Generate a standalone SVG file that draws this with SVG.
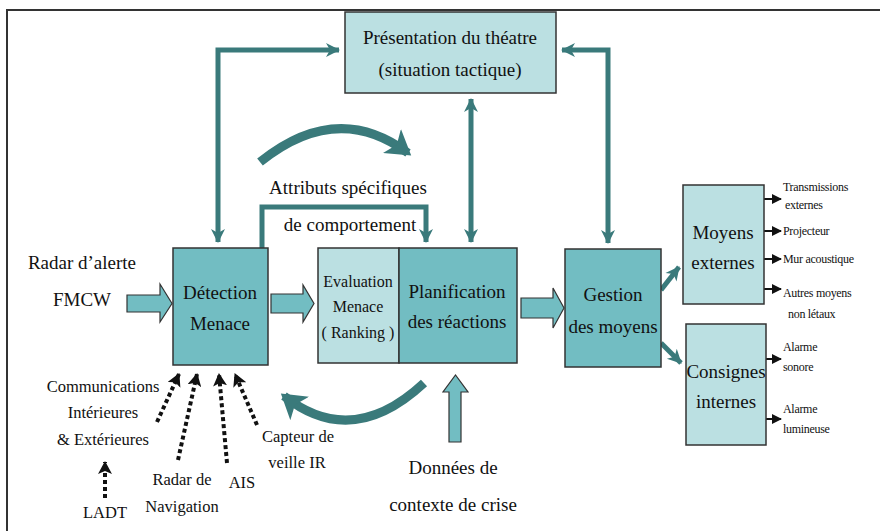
<svg xmlns="http://www.w3.org/2000/svg" width="880" height="531" viewBox="0 0 880 531" font-family="'Liberation Serif', 'DejaVu Serif', serif">
<style>
text{fill:#111;text-anchor:middle}
.big{font-size:19px}
.mid{font-size:16.5px}
.eva{font-size:16px}
.sm{font-size:12px;text-anchor:start;letter-spacing:-0.3px}
.light{fill:#bbe0e2;stroke:#333;stroke-width:1.5}
.med{fill:#72bdc2;stroke:#333;stroke-width:1.5}
.blk{fill:#72bdc2;stroke:#333;stroke-width:1.2}
.tl{fill:none;stroke:#3a7a7b;stroke-width:5}
.tc{fill:none;stroke:#3a7a7b;stroke-width:9;stroke-linecap:butt}
.dot{fill:none;stroke:#111;stroke-width:4;stroke-dasharray:4 3}
.ba{fill:none;stroke:#111;stroke-width:2}
</style>
<defs>
<marker id="ta" markerUnits="userSpaceOnUse" markerWidth="16" markerHeight="16" refX="13" refY="8" orient="auto-start-reverse">
<path d="M0,1 L14,8 L0,15 L4,8 z" fill="#3a7a7b"/>
</marker>
<marker id="tb" markerUnits="userSpaceOnUse" markerWidth="28" markerHeight="30" refX="20" refY="15" orient="auto">
<path d="M0,0 L24,15 L0,30 L6,15 z" fill="#3a7a7b"/>
</marker>
<marker id="da" markerUnits="userSpaceOnUse" markerWidth="14" markerHeight="14" refX="12" refY="7" orient="auto">
<path d="M0,0 L13,7 L0,14 L3,7 z" fill="#111"/>
</marker>
<marker id="sa" markerUnits="userSpaceOnUse" markerWidth="10" markerHeight="10" refX="9" refY="5" orient="auto">
<path d="M0,0 L10,5 L0,10 z" fill="#111"/>
</marker>
</defs>
<g id="frame" fill="none" stroke="#333" stroke-width="2">
<path d="M6,10 H880 M7,10 V531"/>
</g>
<g id="connectors">
<path class="tl" d="M218,242 V50 H339" marker-start="url(#ta)" marker-end="url(#ta)"/>
<path class="tl" d="M608,243 V50 H562" marker-start="url(#ta)" marker-end="url(#ta)"/>
<path class="tl" d="M471,99 V242" marker-start="url(#ta)" marker-end="url(#ta)"/>
<path class="tl" d="M262,248 V207 H426 V242" marker-end="url(#ta)"/>
<path class="tc" d="M260,162 Q337,100 408,153" marker-end="url(#tb)"/>
<path class="tc" d="M424,383 Q352,450 284,396" marker-end="url(#tb)"/>
<path class="tl" d="M661,290 L679,267" stroke-width="6" marker-end="url(#ta)"/>
<path class="tl" d="M661,343 L681,363" stroke-width="6" marker-end="url(#ta)"/>
<path class="dot" d="M157,422 L179,374" marker-end="url(#da)"/>
<path class="dot" d="M178,460 L197,374" marker-end="url(#da)"/>
<path class="dot" d="M227,463 L219,374" marker-end="url(#da)"/>
<path class="dot" d="M257,425 L235,374" marker-end="url(#da)"/>
<path class="dot" d="M105,498 V462" marker-end="url(#da)"/>
<path class="ba" d="M764,199 H781" marker-end="url(#sa)"/>
<path class="ba" d="M764,231 H781" marker-end="url(#sa)"/>
<path class="ba" d="M764,259 H781" marker-end="url(#sa)"/>
<path class="ba" d="M764,289 H781" marker-end="url(#sa)"/>
<path class="ba" d="M766,359 H781" marker-end="url(#sa)"/>
<path class="ba" d="M766,419 H781" marker-end="url(#sa)"/>
<polygon class="blk" points="127,295 160,295 160,284 172,303.5 160,322 160,312 127,312"/>
<polygon class="blk" points="271,294 303,294 303,285 314,303.5 303,322 303,313 271,313"/>
<polygon class="blk" points="521,298 553,298 553,288 564,308 553,328 553,318 521,318"/>
<polygon class="blk" points="449,442 449,392 443,392 455.5,375 468,392 461,392 461,442"/>
</g>
<g id="presentation">
<rect class="light" x="345" y="12" width="211" height="81"/>
<text class="big" x="450" y="44">Présentation du théatre</text>
<text class="big" x="450" y="76">(situation tactique)</text>
</g>
<g id="detection">
<rect class="med" x="173" y="248" width="95" height="117"/>
<text class="big" x="220" y="299">Détection</text>
<text class="big" x="220" y="330">Menace</text>
</g>
<g id="evaluation">
<rect class="light" x="318" y="248" width="81" height="115"/>
<text class="eva" x="358" y="287">Evaluation</text>
<text class="eva" x="358" y="312">Menace</text>
<text class="eva" x="358" y="338">( Ranking )</text>
</g>
<g id="planification">
<rect class="med" x="399" y="248" width="118" height="115"/>
<text class="big" x="457" y="298">Planification</text>
<text class="big" x="457" y="328">des réactions</text>
</g>
<g id="gestion">
<rect class="med" x="565" y="249" width="96" height="118"/>
<text class="big" x="613" y="301">Gestion</text>
<text class="big" x="613" y="333">des moyens</text>
</g>
<g id="moyens">
<rect class="light" x="683" y="185" width="81" height="119"/>
<text class="big" x="723" y="239">Moyens</text>
<text class="big" x="723" y="269">externes</text>
</g>
<g id="consignes">
<rect class="light" x="686" y="324" width="80" height="121"/>
<text class="big" x="726" y="378">Consignes</text>
<text class="big" x="726" y="408">internes</text>
</g>
<g id="labels">
<text class="big" x="82" y="269">Radar d’alerte</text>
<text class="big" x="82" y="306">FMCW</text>
<text class="big" x="348" y="194">Attributs spécifiques</text>
<text class="big" x="350" y="231">de comportement</text>
<text class="mid" x="103" y="392">Communications</text>
<text class="mid" x="103" y="418">Intérieures</text>
<text class="mid" x="103" y="445">&amp; Extérieures</text>
<text class="mid" x="182" y="485">Radar de</text>
<text class="mid" x="182" y="512">Navigation</text>
<text class="mid" x="242" y="488">AIS</text>
<text class="mid" x="105" y="518">LADT</text>
<text class="mid" x="298" y="442">Capteur de</text>
<text class="mid" x="297" y="468">veille IR</text>
<text class="big" x="453" y="474">Données de</text>
<text class="big" x="453" y="511">contexte de crise</text>
<text class="sm" x="783" y="191">Transmissions</text>
<text class="sm" x="785" y="209">externes</text>
<text class="sm" x="783" y="235">Projecteur</text>
<text class="sm" x="783" y="263">Mur acoustique</text>
<text class="sm" x="783" y="297">Autres moyens</text>
<text class="sm" x="788" y="318">non létaux</text>
<text class="sm" x="783" y="351">Alarme</text>
<text class="sm" x="783" y="371">sonore</text>
<text class="sm" x="783" y="413">Alarme</text>
<text class="sm" x="783" y="433">lumineuse</text>
</g>
</svg>
